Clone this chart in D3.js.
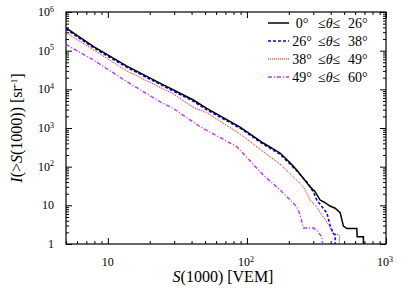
<!DOCTYPE html>
<html>
<head>
<meta charset="utf-8">
<script src="https://cdn.jsdelivr.net/npm/d3@7"></script>
<style>
  body { margin: 0; background: #fff; }
  text { font-family: "Liberation Serif", "Times New Roman", serif; fill: #000; }
</style>
</head>
<body>
<div class="visual"></div>
<script>
//data - S(1000) in VEM, integral intensity in sr^-1
const s0 = [5, 7.9, 13.7, 23.7, 41.2, 51.4, 89.3, 131, 173, 205, 228, 285, 309, 336, 355, 396, 431, 468, 494, 523, 617, 620, 688, 688];
const i0 = [3.9e5, 1.27e5, 4.0e4, 1.45e4, 5.3e3, 3.2e3, 1.06e3, 409, 226, 124, 82, 30, 22.6, 13.7, 12.4, 9.6, 8.4, 6.5, 2.9, 2.5, 2.5, 1.55, 1.55, 0.5];

const s1 = [5, 7.9, 13.7, 23.7, 41.2, 51.4, 89.3, 131, 173, 205, 228, 270, 301, 318, 376, 396, 417, 431, 431];
const i1 = [3.6e5, 1.18e5, 3.7e4, 1.35e4, 4.9e3, 2.95e3, 990, 380, 210, 115, 78, 40, 22, 13.7, 6.3, 3.1, 1.9, 1.7, 0.5];

const s2 = [5, 13.7, 29.6, 41.2, 51.4, 89.3, 131, 173, 228, 255, 285, 318, 346, 376, 396, 417, 462, 462];
const i2 = [2.95e5, 2.98e4, 7.6e3, 3.4e3, 2.5e3, 700, 244, 117, 45, 30, 13.7, 9, 5.6, 3.7, 2.6, 1.9, 1.7, 0.5];

const s3 = [5, 7.9, 13.7, 23.7, 29.6, 46, 84.5, 131, 173, 205, 228, 241, 255, 301, 318, 327, 346, 355];
const i3 = [1.45e5, 5.7e4, 1.58e4, 4.8e3, 3.2e3, 1.08e3, 330, 61, 25, 13.7, 9.2, 5.6, 2.6, 2.6, 2.2, 2.0, 1.5, 0.5];

const legendLow = ["0°", "26°", "38°", "49°"];
const legendHigh = ["26°", "38°", "49°", "60°"];

const xMajor = [10, 100, 1000];
const yMajor = [1, 10, 100, 1e3, 1e4, 1e5, 1e6];

//set constants
const margin = {top: 12, bottom: 51, left: 66, right: 29};
const W = 415, H = 295;
const width = W - margin.left - margin.right;
const height = H - margin.top - margin.bottom;

const svg = d3.select(".visual")
  .append("svg")
  .attr("width", W)
  .attr("height", H);
const g = svg.append("g")
  .attr("transform", "translate(" + margin.left + "," + margin.top + ")");

const x = d3.scaleLog().domain([5, 1000]).range([0, width]);
const y = d3.scaleLog().domain([1, 1e6]).range([height, 0]);

//minor ticks
let xMinor = [];
[1, 10, 100].forEach(d => { for (let k = 2; k <= 9; k++) if (d * k >= 5 && d * k < 1000) xMinor.push(d * k); });
let yMinor = [];
[1, 10, 100, 1e3, 1e4, 1e5].forEach(d => { for (let k = 2; k <= 9; k++) yMinor.push(d * k); });

function ticks(axis, vals, size) {
  return axis.tickValues(vals).tickSize(size).tickFormat("");
}
const axes = g.append("g").attr("class", "axes");
axes.append("g").attr("transform", "translate(0," + height + ")").call(ticks(d3.axisBottom(x), xMinor, -3));
axes.append("g").attr("transform", "translate(0," + height + ")").call(ticks(d3.axisBottom(x), xMajor, -6));
axes.append("g").call(ticks(d3.axisTop(x), xMinor, -3));
axes.append("g").call(ticks(d3.axisTop(x), xMajor, -6));
axes.append("g").call(ticks(d3.axisLeft(y), yMinor, -3));
axes.append("g").call(ticks(d3.axisLeft(y), yMajor, -6));
axes.append("g").attr("transform", "translate(" + width + ",0)").call(ticks(d3.axisRight(y), yMinor, -3));
axes.append("g").attr("transform", "translate(" + width + ",0)").call(ticks(d3.axisRight(y), yMajor, -6));
axes.selectAll(".domain").remove();
axes.selectAll("line").attr("stroke", "#000").attr("stroke-width", 1);

//frame
g.append("rect")
  .attr("width", width)
  .attr("height", height)
  .attr("fill", "none")
  .attr("stroke", "#000")
  .attr("stroke-width", 1.2);

//tick labels
function powLabel(sel, v) {
  const e = Math.round(Math.log10(v));
  if (e === 0) sel.text("1");
  else if (e === 1) sel.text("10");
  else {
    sel.text("10");
    sel.append("tspan").attr("font-size", 8).attr("dy", "-0.55em").text(e);
  }
}
yMajor.forEach(v => {
  g.append("text")
    .attr("x", -12)
    .attr("y", y(v) + 4)
    .attr("text-anchor", "end")
    .attr("font-size", 12)
    .call(powLabel, v);
});
xMajor.forEach(v => {
  g.append("text")
    .attr("x", x(v) + (v > 10 ? -1 : 0))
    .attr("y", height + 22)
    .attr("text-anchor", "middle")
    .attr("font-size", 12)
    .call(powLabel, v);
});

//axis titles
const xt = svg.append("text")
  .attr("x", 223)
  .attr("y", 282)
  .attr("text-anchor", "middle")
  .attr("font-size", 16);
xt.append("tspan").attr("font-style", "italic").text("S");
xt.append("tspan").text("(1000) [VEM]");

const yt = svg.append("text")
  .attr("transform", "translate(22," + (margin.top + height / 2) + ") rotate(-90)")
  .attr("text-anchor", "middle")
  .attr("font-size", 16);
yt.append("tspan").attr("font-style", "italic").text("I");
yt.append("tspan").text("(>");
yt.append("tspan").attr("font-style", "italic").text("S");
yt.append("tspan").text("(1000)) [sr");
yt.append("tspan").attr("font-size", 9).attr("dy", "-0.6em").text("-1");
yt.append("tspan").attr("dy", "0.4em").text("]");

//curves
g.append("clipPath").attr("id", "clip")
  .append("rect").attr("width", width).attr("height", height);

const series = [
  {s: s0, i: i0, color: "#000000", dash: null, w: 1.5},
  {s: s1, i: i1, color: "#0000ff", dash: "3,2", w: 1.5},
  {s: s2, i: i2, color: "#ff0000", dash: "1,1", w: 1},
  {s: s3, i: i3, color: "#c030ff", dash: "4,2,1,2", w: 1.4}
];
const line = d3.line()
  .x(d => x(d[0]))
  .y(d => y(d[1]));

g.append("g").attr("clip-path", "url(#clip)")
  .selectAll("path")
  .data(series.slice().reverse())
  .enter()
  .append("path")
  .attr("d", d => line(d3.zip(d.s, d.i)))
  .attr("fill", "none")
  .attr("stroke", d => d.color)
  .attr("stroke-width", d => d.w)
  .attr("stroke-dasharray", d => d.dash);

//legend
const legend = svg.selectAll(".legend")
  .data(series)
  .enter()
  .append("g")
  .attr("class", "legend")
  .attr("transform", (d, i) => "translate(0," + (23 + i * 18) + ")");
legend.append("line")
  .attr("x1", 268).attr("x2", 289)
  .attr("stroke", d => d.color)
  .attr("stroke-width", d => d.w)
  .attr("stroke-dasharray", d => d.dash);
legend.append("text")
  .attr("x", 302).attr("y", 5)
  .attr("text-anchor", "middle")
  .attr("font-size", 14)
  .text((d, i) => legendLow[i]);
const mid = legend.append("text")
  .attr("x", 318).attr("y", 5)
  .attr("font-size", 14);
mid.append("tspan").text("≤");
mid.append("tspan").attr("font-style", "italic").text("θ");
mid.append("tspan").text("≤");
legend.append("text")
  .attr("x", 348).attr("y", 5)
  .attr("font-size", 14)
  .text((d, i) => legendHigh[i]);
</script>
</body>
</html>
